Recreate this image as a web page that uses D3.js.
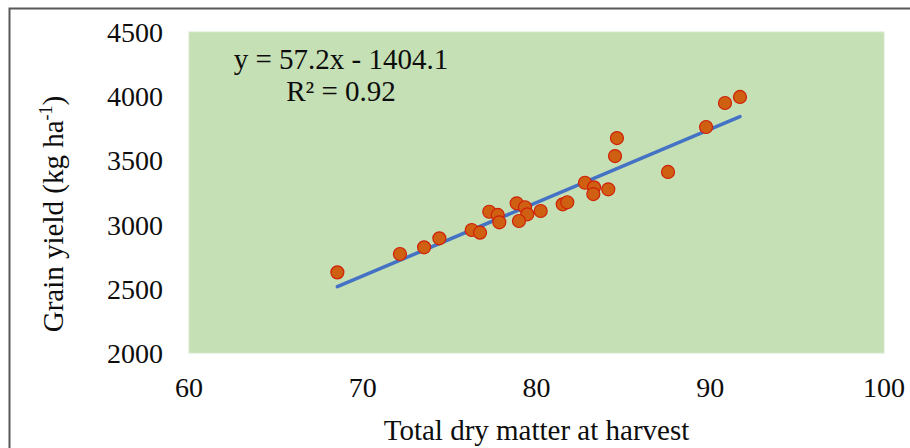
<!DOCTYPE html>
<html><head><meta charset="utf-8">
<script src="https://cdn.jsdelivr.net/npm/d3@7"></script>
<style>body{margin:0;background:#fff}svg{display:block}text{font-family:"Liberation Serif","Times New Roman",serif;fill:#0d0d0d}</style>
</head><body>
<svg id="c" width="910" height="448"></svg>
<script>
const xValues = [68.54,72.14,73.53,74.41,76.27,76.75,77.28,77.77,77.86,78.86,79.34,79.47,78.99,80.24,81.51,81.77,82.79,83.31,83.27,84.13,84.52,84.63,87.57,89.76,90.85,91.71];
const yValues = [2628,2771,2823,2893,2958,2937,3100,3075,3018,3166,3135,3080,3028,3106,3158,3174,3326,3290,3238,3275,3534,3674,3410,3760,3947,3994];
const xTicks = [60,70,80,90,100];
const yTicks = [2000,2500,3000,3500,4000,4500];
const slope = 57.2, intercept = -1404.1;
const eqText = "y = 57.2x - 1404.1";
const r2Label = "R² = 0.92";
const xTitle = "Total dry matter at harvest";

const svg = d3.select("#c");
const L=189,R=884,T=32,B=353;
const x = d3.scaleLinear().domain([60,100]).range([L,R]);
const y = d3.scaleLinear().domain([2000,4500]).range([B,T]);

// outer frame
svg.append("rect").attr("x",9.5).attr("y",8.5).attr("width",1000).attr("height",1000)
  .attr("fill","none").attr("stroke","#595959").attr("stroke-width",2);

svg.append("rect").attr("x",L).attr("y",T).attr("width",R-L).attr("height",B-T)
  .attr("fill","#C5E0B4").attr("stroke","#d6e9ca").attr("stroke-width",1);

const fs = 28;
svg.append("g").selectAll("text").data(yTicks).join("text")
  .attr("x",163).attr("y",d=>y(d)).attr("dy","0.36em").attr("text-anchor","end")
  .attr("font-size",fs).text(d=>d);
svg.append("g").selectAll("text").data(xTicks).join("text")
  .attr("x",d=>x(d)).attr("y",B+34).attr("dy","0.36em").attr("text-anchor","middle")
  .attr("font-size",fs).text(d=>d);

svg.append("text").attr("x",(L+R)/2).attr("y",440).attr("text-anchor","middle")
  .attr("font-size",29).text(xTitle);

const yt = svg.append("text").attr("transform","translate(63,214) rotate(-90)")
  .attr("text-anchor","middle").attr("font-size",29);
yt.append("tspan").text("Grain yield (kg ha");
yt.append("tspan").attr("font-size",18).attr("dy",-11).text("-1");
yt.append("tspan").attr("dy",11).text(")");

// trend line
const xs = d3.extent(xValues);
svg.append("line").attr("x1",x(xs[0])).attr("y1",y(slope*xs[0]+intercept))
  .attr("x2",x(xs[1])).attr("y2",y(slope*xs[1]+intercept))
  .attr("stroke","#4472C4").attr("stroke-width",3.5).attr("stroke-linecap","round");

svg.append("g").selectAll("circle").data(xValues).join("circle")
  .attr("cx",d=>x(d)).attr("cy",(d,i)=>y(yValues[i])).attr("r",6.5)
  .attr("fill","#CF6011").attr("stroke","#D0200A").attr("stroke-width",1.2);

svg.append("text").attr("x",341).attr("y",69).attr("text-anchor","middle").attr("font-size",29).text(eqText);
svg.append("text").attr("x",341).attr("y",101).attr("text-anchor","middle").attr("font-size",29).text(r2Label);
</script>
</body></html>
